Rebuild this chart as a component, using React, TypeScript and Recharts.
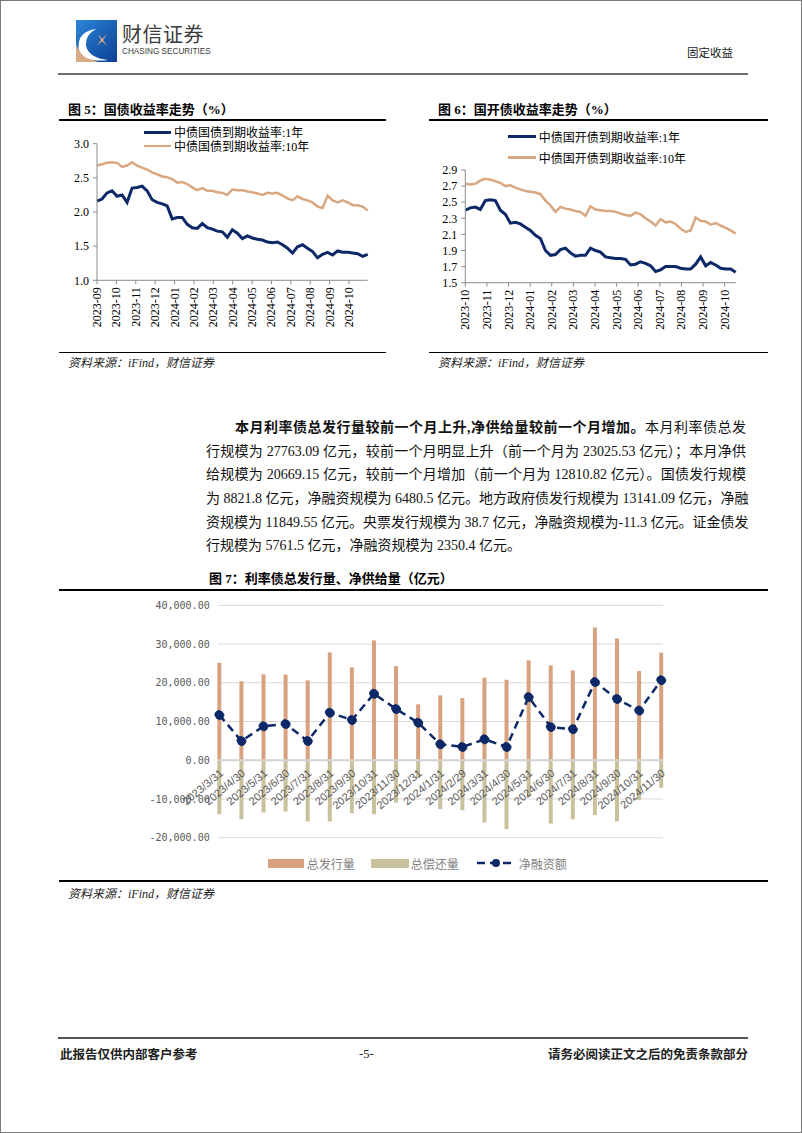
import React from "react";
import {
  LineChart,
  Line,
  ComposedChart,
  Bar,
  XAxis,
  YAxis,
  CartesianGrid,
  ReferenceLine,
  Legend,
} from "recharts";

const SERIF = '"Liberation Serif", "Times New Roman", "Noto Sans CJK SC", serif';
const CN = '"Noto Sans CJK SC", "Liberation Sans", sans-serif';
const NAVY = "#0c2866";
const TAN = "#d9a780";
const BAR_ORANGE = "#d8a27e";
const BAR_KHAKI = "#c9c19b";

// Figure 5 - treasury yields (weekly samples)
const G5_LABELS = [
  "2023-09", "2023-10", "2023-11", "2023-12", "2024-01", "2024-02", "2024-03",
  "2024-04", "2024-05", "2024-06", "2024-07", "2024-08", "2024-09", "2024-10",
];
const G5_NAMES = ["中债国债到期收益率:1年", "中债国债到期收益率:10年"];
const G5_1Y = [
  2.16, 2.19, 2.28, 2.31, 2.23, 2.25, 2.14, 2.35, 2.36, 2.38,
  2.31, 2.18, 2.14, 2.12, 2.09, 1.9, 1.92, 1.92, 1.82, 1.77,
  1.76, 1.83, 1.77, 1.75, 1.72, 1.71, 1.63, 1.74, 1.69, 1.61,
  1.65, 1.62, 1.6, 1.59, 1.56, 1.55, 1.56, 1.52, 1.47, 1.4,
  1.49, 1.52, 1.47, 1.42, 1.33, 1.38, 1.41, 1.37, 1.43, 1.41,
  1.41, 1.4, 1.39, 1.35, 1.38,
];
const G5_10Y = [
  2.68, 2.7, 2.72, 2.73, 2.72, 2.66, 2.68, 2.73, 2.68, 2.65,
  2.62, 2.58, 2.55, 2.52, 2.51, 2.48, 2.43, 2.44, 2.41, 2.36,
  2.32, 2.35, 2.31, 2.31, 2.29, 2.28, 2.25, 2.33, 2.32, 2.32,
  2.3, 2.29, 2.27, 2.25, 2.28, 2.27, 2.28, 2.24, 2.2, 2.17,
  2.23, 2.19, 2.17, 2.14, 2.08, 2.06, 2.24, 2.17, 2.14, 2.17,
  2.14, 2.1, 2.1, 2.08, 2.02,
];

// Figure 6 - policy bank (CDB) yields
const G6_LABELS = [
  "2023-10", "2023-11", "2023-12", "2024-01", "2024-02", "2024-03", "2024-04",
  "2024-05", "2024-06", "2024-07", "2024-08", "2024-09", "2024-10",
];
const G6_NAMES = ["中债国开债到期收益率:1年", "中债国开债到期收益率:10年"];
const G6_1Y = [
  2.4, 2.43, 2.44, 2.41, 2.52, 2.53, 2.52, 2.4, 2.35, 2.24,
  2.25, 2.23, 2.19, 2.15, 2.09, 2.05, 1.9, 1.84, 1.85, 1.91,
  1.93, 1.87, 1.83, 1.84, 1.84, 1.93, 1.9, 1.88, 1.82, 1.81,
  1.8, 1.8, 1.79, 1.72, 1.73, 1.76, 1.74, 1.71, 1.64, 1.66,
  1.7, 1.7, 1.7, 1.68, 1.67, 1.67, 1.73, 1.82, 1.71, 1.75,
  1.72, 1.68, 1.67, 1.67, 1.63,
];
const G6_10Y = [
  2.73, 2.72, 2.73, 2.77, 2.79, 2.78, 2.76, 2.74, 2.7, 2.71,
  2.68, 2.66, 2.64, 2.63, 2.62, 2.6, 2.52, 2.46, 2.38, 2.44,
  2.42, 2.41, 2.39, 2.38, 2.33, 2.45, 2.41, 2.4, 2.39, 2.39,
  2.38, 2.36, 2.34, 2.33, 2.37, 2.35, 2.3, 2.26, 2.21, 2.29,
  2.25, 2.26, 2.23, 2.17, 2.13, 2.15, 2.31, 2.27, 2.26, 2.22,
  2.24, 2.21, 2.18, 2.15, 2.11,
];

// Figure 7 - monthly supply (亿元)
const MONTHS = [
  "2023/3/31", "2023/4/30", "2023/5/31", "2023/6/30", "2023/7/31", "2023/8/31",
  "2023/9/30", "2023/10/31", "2023/11/30", "2023/12/31", "2024/1/31", "2024/2/29",
  "2024/3/31", "2024/4/30", "2024/5/31", "2024/6/30", "2024/7/31", "2024/8/31",
  "2024/9/30", "2024/10/31", "2024/11/30",
];
const ISSUE = [
  25150, 20360, 22160, 22100, 20600, 27830, 23970, 30930, 24300, 14430, 16750,
  16060, 21300, 20780, 25770, 24480, 23200, 34280, 31440, 23025.53, 27763.09,
];
const REPAY = [
  -13920, -15200, -13500, -13250, -15820, -15820, -13660, -13920, -10930, -4600,
  -12630, -12890, -16080, -17780, -9460, -16340, -15200, -14180, -15820,
  -10214.71, -7093.94,
];
const NET = [
  11670, 4970, 8760, 9360, 4970, 12270, 10390, 17170, 13220, 9690, 4120, 3430,
  5410, 3430, 16310, 8580, 7990, 20180, 15800, 12810.82, 20669.15,
];
const BAR_Y_TICKS = [-20000, -10000, 0, 10000, 20000, 30000, 40000];

const AXIS_GREY = "#8c8c8c";

function YieldChart(props: any) {
  const { left, top, width, height, margin, yWidth, yDomain, yTicks, labels, gap, short, long, names, legend } = props;
  const data = short.map((v: number, i: number) => ({ x: i, s: v, l: long[i] }));
  const ticks = labels.map((_: string, m: number) => m * gap);

  const VTick = (p: any) => {
    const label = labels[Math.round(p.payload.value / gap)];
    return (
      <text
        x={p.x}
        y={p.y}
        transform={`rotate(-90 ${p.x} ${p.y})`}
        textAnchor="end"
        dominantBaseline="central"
        fontSize={12}
        fontFamily={SERIF}
        fill="#000"
      >
        {label}
      </text>
    );
  };

  const legendContent = () => (
    <div style={{ fontFamily: SERIF, fontSize: 12, color: "#000" }}>
      {names.map((n: string, k: number) => (
        <div key={n} style={{ display: "flex", alignItems: "center", height: legend.row, whiteSpace: "nowrap" }}>
          <span
            style={{
              display: "inline-block",
              width: legend.sample,
              height: k === 0 ? 3 : 2.5,
              background: k === 0 ? NAVY : TAN,
              marginRight: 3,
            }}
          />
          <span>{n}</span>
        </div>
      ))}
    </div>
  );

  return (
    <div style={{ position: "absolute", left, top }}>
      <LineChart width={width} height={height} data={data} margin={margin}>
        <XAxis
          type="number"
          dataKey="x"
          domain={[0, short.length - 1]}
          ticks={ticks}
          interval={0}
          height={50}
          tickSize={4}
          tickMargin={3}
          stroke={AXIS_GREY}
          tick={VTick}
        />
        <YAxis
          domain={yDomain}
          ticks={yTicks}
          interval={0}
          width={yWidth}
          tickSize={4}
          tickMargin={4}
          stroke={AXIS_GREY}
          tickFormatter={(v: number) => v.toFixed(1)}
          tick={{ fontSize: 12, fontFamily: SERIF, fill: "#000" }}
        />
        <Legend
          layout="horizontal"
          verticalAlign="middle"
          align="center"
          content={legendContent}
          wrapperStyle={{ left: legend.left, top: legend.top, width: 230 }}
        />
        <Line type="linear" dataKey="l" stroke={TAN} strokeWidth={2.5} dot={false} isAnimationActive={false} />
        <Line type="linear" dataKey="s" stroke={NAVY} strokeWidth={3} dot={false} isAnimationActive={false} />
      </LineChart>
    </div>
  );
}

// bar chart geometry
const B_W = 620;
const B_H = 300;
const B_MARGIN = { top: 14.3, right: 18, bottom: 52.3, left: 96.7 };
const B_PLOT_H = B_H - B_MARGIN.top - B_MARGIN.bottom - 1;
const B_ZERO_Y = B_MARGIN.top + (B_PLOT_H * 40000) / 60000;

function SupplyChart() {
  const data = MONTHS.map((m, i) => ({ x: i, issue: ISSUE[i], repay: REPAY[i], net: NET[i] }));

  const MonthTick = (p: any) => {
    const tx = p.x + 2;
    const ty = B_ZERO_Y + 11;
    return (
      <text
        x={tx}
        y={ty}
        transform={`rotate(-40 ${tx} ${ty})`}
        textAnchor="end"
        dominantBaseline="central"
        fontSize={11}
        fontFamily='"Liberation Sans", Arial, sans-serif'
        fill="#595959"
      >
        {MONTHS[p.payload.value]}
      </text>
    );
  };

  const legendContent = () => (
    <div
      style={{
        display: "flex",
        alignItems: "center",
        fontFamily: CN,
        fontSize: 12,
        color: "#7f7f7f",
        whiteSpace: "nowrap",
        height: 12,
      }}
    >
      <span style={{ display: "inline-block", width: 36, height: 9, background: BAR_ORANGE, marginRight: 3 }} />
      <span style={{ marginRight: 16 }}>总发行量</span>
      <span style={{ display: "inline-block", width: 38, height: 9, background: BAR_KHAKI, marginRight: 2 }} />
      <span style={{ marginRight: 18 }}>总偿还量</span>
      <svg width={38} height={10} style={{ marginRight: 4 }}>
        <line x1={0} y1={5} x2={38} y2={5} stroke={NAVY} strokeWidth={2.5} strokeDasharray="8 5" />
        <circle cx={19} cy={5} r={4} fill={NAVY} />
      </svg>
      <span>净融资额</span>
    </div>
  );

  return (
    <div style={{ position: "absolute", left: 60, top: 590 }}>
      <ComposedChart width={B_W} height={B_H} data={data} margin={B_MARGIN} stackOffset="sign">
        <CartesianGrid vertical={false} stroke="#d9d9d9" />
        <XAxis
          type="number"
          dataKey="x"
          domain={[-0.075, 20.08]}
          ticks={MONTHS.map((_, i) => i)}
          interval={0}
          height={1}
          axisLine={false}
          tickLine={false}
          tick={MonthTick}
        />
        <YAxis
          domain={[-20000, 40000]}
          ticks={BAR_Y_TICKS}
          interval={0}
          width={60}
          axisLine={false}
          tickLine={false}
          tickFormatter={(v: number) =>
            v.toLocaleString("en-US", { minimumFractionDigits: 2, maximumFractionDigits: 2 })
          }
          tick={{ fontSize: 10, fontFamily: '"DejaVu Sans Mono", monospace', fill: "#595959" }}
        />
        <ReferenceLine y={0} stroke="#d4d4d4" strokeWidth={2} />
        <Legend
          layout="horizontal"
          verticalAlign="middle"
          align="center"
          content={legendContent}
          wrapperStyle={{ left: 206.7, top: 266, width: 330 }}
        />
        <Bar dataKey="issue" stackId="a" fill={BAR_ORANGE} barSize={4} isAnimationActive={false} />
        <Bar dataKey="repay" stackId="a" fill={BAR_KHAKI} barSize={4} isAnimationActive={false} />
        <Line
          type="linear"
          dataKey="net"
          stroke={NAVY}
          strokeWidth={2.5}
          strokeDasharray="8 5"
          dot={{ r: 4.5, fill: NAVY, stroke: NAVY, strokeWidth: 1 }}
          isAnimationActive={false}
        />
      </ComposedChart>
    </div>
  );
}

const abs = (left: number, top: number, extra: any = {}) => ({ position: "absolute" as const, left, top, ...extra });

function Rule({ x1, x2, y, w = 1, color = "#000" }: any) {
  return <div style={abs(x1, y - w / 2, { width: x2 - x1, height: w, background: color })} />;
}

function Logo() {
  return (
    <svg width={41} height={42} style={abs(75, 19)}>
      <defs>
        <linearGradient id="logoBlue" x1="0" y1="0" x2="1" y2="1">
          <stop offset="0" stopColor="#2c86d8" />
          <stop offset="1" stopColor="#0b3f95" />
        </linearGradient>
      </defs>
      <rect x={0} y={0} width={41} height={42} fill="url(#logoBlue)" />
      <path d="M0 25 L0 42 L22 42 Q6 38 0 25 Z" fill="#d9ab82" />
      <path d="M3 30 Q0 12 20 9 Q9 15 10 26 Q13 38 32 40 Q9 43 3 30 Z" fill="#ffffff" />
      <path d="M22 14 L26 19 L31 14 L27 20 L31 26 L26 21 L21 26 L25 20 Z" fill="#f2b27a" />
    </svg>
  );
}

const PARA_LINES: any[] = [
  [
    <b key="b">本月利率债总发行量较前一个月上升,净供给量较前一个月增加。</b>,
    "本月利率债总发",
  ],
  ["行规模为 27763.09 亿元，较前一个月明显上升（前一个月为 23025.53 亿元）；本月净供"],
  ["给规模为 20669.15 亿元，较前一个月增加（前一个月为 12810.82 亿元）。国债发行规模"],
  ["为 8821.8 亿元，净融资规模为 6480.5 亿元。地方政府债发行规模为 13141.09 亿元，净融"],
  ["资规模为 11849.55 亿元。央票发行规模为 38.7 亿元，净融资规模为-11.3 亿元。证金债发"],
  ["行规模为 5761.5 亿元，净融资规模为 2350.4 亿元。"],
];

export default function App() {
  const title = { fontFamily: SERIF, fontSize: 13, fontWeight: 700, color: "#000", whiteSpace: "nowrap" as const, lineHeight: "16px" };
  const source = { fontFamily: SERIF, fontSize: 12, fontStyle: "italic", color: "#222", whiteSpace: "nowrap" as const, lineHeight: "14px" };
  return (
    <div
      style={{
        position: "absolute",
        left: 0,
        top: 0,
        width: 802,
        height: 1133,
        background: "#fff",
        overflow: "hidden",
        boxSizing: "border-box",
        border: "1px solid #7a7a7a",
        fontFamily: SERIF,
      }}
    >
      {/* header */}
      <Logo />
      <div style={abs(121, 21, { fontFamily: CN, fontSize: 20, color: "#3a3a3a", lineHeight: "24px", letterSpacing: 0.5 })}>
        财信证券
      </div>
      <div style={abs(121, 46, { fontFamily: '"Liberation Sans", Arial, sans-serif', fontSize: 8.2, color: "#3a3a3a", lineHeight: "10px" })}>
        CHASING SECURITIES
      </div>
      <div style={abs(686, 44, { fontFamily: CN, fontSize: 11.5, color: "#222", lineHeight: "14px" })}>固定收益</div>
      <Rule x1={57} x2={747} y={73.3} w={2} color="#6d6d6d" />

      {/* figure 5 */}
      <div style={abs(67, 101, title)}>图 5：国债收益率走势（%）</div>
      <Rule x1={58} x2={385} y={119} w={1.2} />
      <YieldChart
        left={56}
        top={120}
        width={320}
        height={220}
        margin={{ top: 22.7, right: 9.3, bottom: 10.7, left: 0 }}
        yWidth={40}
        yDomain={[1, 3]}
        yTicks={[1, 1.5, 2, 2.5, 3]}
        labels={G5_LABELS}
        gap={58 / 15}
        short={G5_1Y}
        long={G5_10Y}
        names={G5_NAMES}
        legend={{ left: 87, top: 4, row: 14, sample: 27 }}
      />
      <Rule x1={58} x2={385} y={351.7} w={1.2} />
      <div style={abs(67, 355, source)}>资料来源：iFind，财信证券</div>

      {/* figure 6 */}
      <div style={abs(437, 101, title)}>图 6：国开债收益率走势（%）</div>
      <Rule x1={428} x2={767} y={119} w={1.2} />
      <YieldChart
        left={428}
        top={120}
        width={320}
        height={220}
        margin={{ top: 49, right: 13.3, bottom: 8.3, left: 0 }}
        yWidth={36.3}
        yDomain={[1.5, 2.9]}
        yTicks={[1.5, 1.7, 1.9, 2.1, 2.3, 2.5, 2.7, 2.9]}
        labels={G6_LABELS}
        gap={64.75 / 15}
        short={G6_1Y}
        long={G6_10Y}
        names={G6_NAMES}
        legend={{ left: 78.7, top: 5.2, row: 21, sample: 28 }}
      />
      <Rule x1={428} x2={767} y={351.7} w={1.2} />
      <div style={abs(437, 355, source)}>资料来源：iFind，财信证券</div>

      {/* paragraph */}
      <div style={abs(205, 415.2, { width: 540, fontSize: 14, lineHeight: "23.6px", color: "#111" })}>
        {PARA_LINES.map((parts, i) => (
          <div
            key={i}
            style={{
              height: 23.6,
              whiteSpace: "nowrap",
              paddingLeft: i === 0 ? 29 : 0,
              textAlign: "justify",
              textAlignLast: i === PARA_LINES.length - 1 ? "left" : "justify",
            }}
          >
            {parts}
          </div>
        ))}
      </div>

      {/* figure 7 */}
      <div style={abs(208, 570, title)}>图 7：利率债总发行量、净供给量（亿元）</div>
      <Rule x1={58} x2={767} y={589} w={1.2} />
      <SupplyChart />
      <Rule x1={58} x2={767} y={880} w={1.2} />
      <div style={abs(67, 886, source)}>资料来源：iFind，财信证券</div>

      {/* footer */}
      <Rule x1={57} x2={747} y={1037} w={2} color="#555" />
      <div style={abs(59, 1045, { fontFamily: CN, fontSize: 12.5, fontWeight: 700, color: "#222", lineHeight: "16px" })}>
        此报告仅供内部客户参考
      </div>
      <div style={abs(358, 1045, { fontFamily: SERIF, fontSize: 12.5, color: "#222", lineHeight: "16px" })}>-5-</div>
      <div style={abs(547, 1045, { width: 200, textAlign: "right", fontFamily: CN, fontSize: 12.5, fontWeight: 700, color: "#222", lineHeight: "16px", whiteSpace: "nowrap" })}>
        请务必阅读正文之后的免责条款部分
      </div>
    </div>
  );
}
